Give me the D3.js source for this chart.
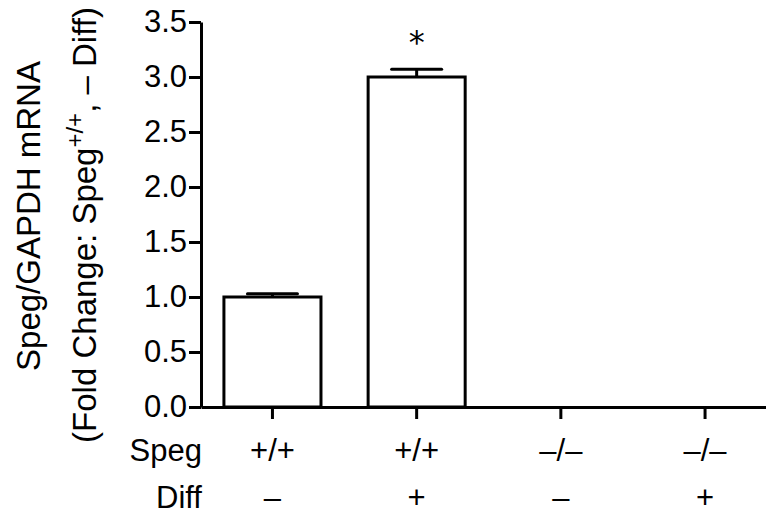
<!DOCTYPE html>
<html>
<head>
<meta charset="utf-8">
<script src="https://cdn.jsdelivr.net/npm/d3@7"></script>
<style>
  body { margin: 0; background: #fff; }
  text { font-family: "Liberation Sans", Arial, sans-serif; fill: #000; }
</style>
</head>
<body>
<script>
// groups along x
var groups = ["A", "B", "C", "D"];
var spegLabels = ["+/+", "+/+", "\u2013/\u2013", "\u2013/\u2013"];
var diffLabels = ["\u2013", "+", "\u2013", "+"];
// fold change and its error
var means = [1.0, 3.0, 0, 0];
var errs = [0.03, 0.07, 0, 0];
var yTicks = [0, 0.5, 1.0, 1.5, 2.0, 2.5, 3.0, 3.5];
var starred = ["B"];

var W = 766, H = 517;
var svg = d3.select("body").append("svg")
    .attr("width", W)
    .attr("height", H);

var x = d3.scaleBand()
    .domain(groups)
    .range([201, 776.5])
    .paddingInner(0.327)
    .paddingOuter(0.159);

var y = d3.scaleLinear()
    .domain([0, 3.5])
    .range([407, 22]);

// bars
svg.selectAll("rect.bar")
    .data(groups)
    .enter().append("rect")
    .attr("class", "bar")
    .attr("x", function (d) { return x(d); })
    .attr("width", x.bandwidth())
    .attr("y", function (d, i) { return y(means[i]); })
    .attr("height", function (d, i) { return y(0) - y(means[i]); })
    .attr("fill", "#fff")
    .attr("stroke", "#000")
    .attr("stroke-width", 3);

// error bars (upper only)
var capW = 50;
groups.forEach(function (g, i) {
  if (!errs[i]) return;
  var cx = x(g) + x.bandwidth() / 2;
  svg.append("line")
      .attr("x1", cx).attr("x2", cx)
      .attr("y1", y(means[i])).attr("y2", y(means[i] + errs[i]))
      .attr("stroke", "#000").attr("stroke-width", 3);
  svg.append("line")
      .attr("x1", cx - capW / 2).attr("x2", cx + capW / 2)
      .attr("y1", y(means[i] + errs[i])).attr("y2", y(means[i] + errs[i]))
      .attr("stroke", "#000").attr("stroke-width", 3)
      .attr("stroke-linecap", "round");
});

// significance star
starred.forEach(function (g) {
  var i = groups.indexOf(g);
  svg.append("text")
      .attr("x", x(g) + x.bandwidth() / 2)
      .attr("y", y(means[i] + errs[i]) - 16)
      .attr("text-anchor", "middle")
      .style("font-family", "DejaVu Sans, sans-serif")
      .style("font-size", "32px")
      .text("*");
});

// axes
var yAxis = d3.axisLeft(y)
    .tickValues(yTicks)
    .tickFormat(d3.format(".1f"))
    .tickSize(12)
    .tickSizeOuter(0)
    .tickPadding(2);

var gy = svg.append("g")
    .attr("transform", "translate(201,0)")
    .call(yAxis);
gy.selectAll("text").style("font-size", "31px").style("font-family", "Liberation Sans, Arial, sans-serif");

var xAxis = d3.axisBottom(x)
    .tickFormat("")
    .tickSize(12)
    .tickSizeOuter(0);

var gx = svg.append("g")
    .attr("transform", "translate(0,407)")
    .call(xAxis);

svg.selectAll(".domain, .tick line")
    .attr("stroke", "#000")
    .attr("stroke-width", 3);

// row labels under the axis
svg.append("text").attr("x", 202).attr("y", 461)
    .attr("text-anchor", "end").style("font-size", "31px").text("Speg");
svg.append("text").attr("x", 202).attr("y", 508)
    .attr("text-anchor", "end").style("font-size", "31px").text("Diff");

svg.selectAll("text.speg")
    .data(groups)
    .enter().append("text")
    .attr("class", "speg")
    .attr("x", function (d) { return x(d) + x.bandwidth() / 2; })
    .attr("y", 461)
    .attr("text-anchor", "middle")
    .style("font-size", "31px")
    .text(function (d, i) { return spegLabels[i]; });

svg.selectAll("text.diff")
    .data(groups)
    .enter().append("text")
    .attr("class", "diff")
    .attr("x", function (d) { return x(d) + x.bandwidth() / 2; })
    .attr("y", 508)
    .attr("text-anchor", "middle")
    .style("font-size", "31px")
    .text(function (d, i) { return diffLabels[i]; });

// y title, two lines
svg.append("text")
    .attr("transform", "translate(40,216) rotate(-90)")
    .attr("text-anchor", "middle")
    .style("font-size", "33px")
    .text("Speg/GAPDH mRNA");

var t2 = svg.append("text")
    .attr("transform", "translate(96,225) rotate(-90)")
    .attr("text-anchor", "middle")
    .style("font-size", "33px");
t2.append("tspan").text("(Fold Change: Speg");
t2.append("tspan").attr("baseline-shift", "super").style("font-size", "24px").text("+/+");
t2.append("tspan").text(", \u2013 Diff)");
</script>
</body>
</html>
